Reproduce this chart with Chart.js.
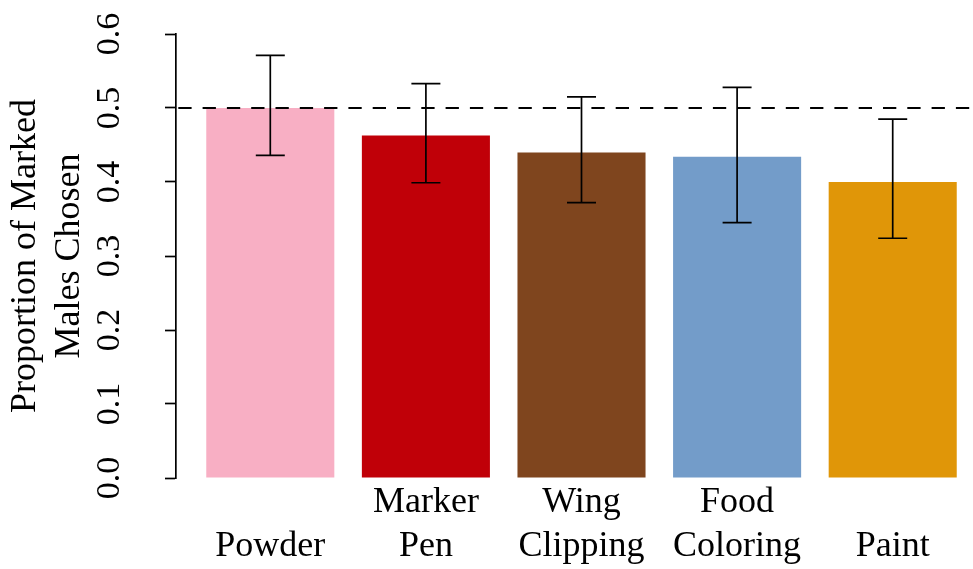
<!DOCTYPE html>
<html>
<head>
<meta charset="utf-8">
<script src="https://cdn.jsdelivr.net/npm/chart.js@4.4.1/dist/chart.umd.min.js"></script>
<style>
  html, body { margin: 0; padding: 0; background: #ffffff; }
  #wrap { width: 973px; height: 569px; }
</style>
</head>
<body>
<div id="wrap"><canvas id="c" width="973" height="569"></canvas></div>
<script>
// ---- data ----
const categories = [['', 'Powder'], ['Marker', 'Pen'], ['Wing', 'Clipping'], ['Food', 'Coloring'], ['', 'Paint']];
const proportions = [0.500, 0.463, 0.440, 0.434, 0.400];
const errLower = [0.436, 0.399, 0.372, 0.345, 0.324];
const errUpper = [0.571, 0.533, 0.515, 0.528, 0.485];
const barColors = ['#F8AFC4', '#C00008', '#7F451E', '#739CC9', '#E09608'];
const yTickValues = [0.0, 0.1, 0.2, 0.3, 0.4, 0.5, 0.6];
const yTickLabels = ['0.0', '0.1', '0.2', '0.3', '0.4', '0.5', '0.6'];
const referenceValue = [0.5];
const yTitle = ['Proportion of Marked', 'Males Chosen'];

// ---- axis limits ----
const X_MIN = -0.606, X_MAX = 4.516;

const serif = '"Liberation Serif", "Times New Roman", serif';

const errorBarPlugin = {
  id: 'errorBars',
  afterDatasetsDraw(chart) {
    const ctx = chart.ctx;
    const xs = chart.scales.x, ys = chart.scales.y;
    ctx.save();
    ctx.strokeStyle = '#000';
    ctx.lineWidth = 1.7;
    const half = 14.5;
    errLower.forEach((lo, i) => {
      const x = xs.getPixelForValue(i);
      const yl = ys.getPixelForValue(lo);
      const yh = ys.getPixelForValue(errUpper[i]);
      ctx.beginPath();
      ctx.moveTo(x, yl); ctx.lineTo(x, yh);
      ctx.moveTo(x - half, yl); ctx.lineTo(x + half, yl);
      ctx.moveTo(x - half, yh); ctx.lineTo(x + half, yh);
      ctx.stroke();
    });
    ctx.restore();
  }
};

function zeroPad(scale) {
  scale.paddingLeft = 0; scale.paddingRight = 0;
  scale.paddingTop = 0; scale.paddingBottom = 0;
}

new Chart(document.getElementById('c'), {
  type: 'bar',
  data: {
    datasets: [
      {
        type: 'bar',
        data: proportions.map((v, i) => ({ x: i, y: v })),
        backgroundColor: barColors,
        borderWidth: 0,
        barPercentage: 0.823,
        categoryPercentage: 1.0,
        order: 2
      },
      {
        type: 'line',
        data: [{ x: X_MIN, y: referenceValue[0] }, { x: X_MAX, y: referenceValue[0] }],
        borderColor: '#000',
        borderWidth: 1.8,
        borderDash: [13.3, 11],
        borderDashOffset: 22,
        pointRadius: 0,
        fill: false,
        order: 1
      }
    ]
  },
  options: {
    responsive: false,
    animation: false,
    devicePixelRatio: 1,
    layout: { padding: { top: 34, right: 0, bottom: 0, left: 0 } },
    plugins: { legend: { display: false }, tooltip: { enabled: false } },
    scales: {
      x: {
        type: 'linear',
        offset: false,
        min: X_MIN,
        max: X_MAX,
        afterBuildTicks(scale) { scale.ticks = categories.map((_, i) => ({ value: i })); },
        afterFit(scale) { scale.height = 91; zeroPad(scale); },
        grid: { display: false, drawTicks: false, offset: false },
        border: { display: false },
        ticks: {
          autoSkip: false,
          maxRotation: 0,
          minRotation: 0,
          padding: 3,
          color: '#000',
          font: { family: serif, size: 36, lineHeight: 1.222 },
          callback: (v) => categories[Math.round(v)]
        }
      },
      y: {
        type: 'linear',
        min: 0,
        max: 0.6,
        afterBuildTicks(scale) { scale.ticks = yTickValues.map(v => ({ value: v })); },
        afterFit(scale) { scale.width = 176; zeroPad(scale); },
        border: { display: true, color: '#000', width: 1.7 },
        grid: { drawOnChartArea: false, drawTicks: true, tickLength: 11, tickWidth: 1.7, tickColor: '#000', color: '#000' },
        ticks: {
          minRotation: 90,
          maxRotation: 90,
          crossAlign: 'center',
          padding: 33.5,
          color: '#000',
          font: { family: serif, size: 34 },
          callback: (v) => yTickLabels[yTickValues.findIndex(t => Math.abs(t - v) < 1e-9)]
        },
        title: {
          display: true,
          text: yTitle,
          color: '#000',
          font: { family: serif, size: 36, lineHeight: 1.24 },
          padding: { top: 3, bottom: 0 }
        }
      }
    }
  },
  plugins: [errorBarPlugin]
});
</script>
</body>
</html>
